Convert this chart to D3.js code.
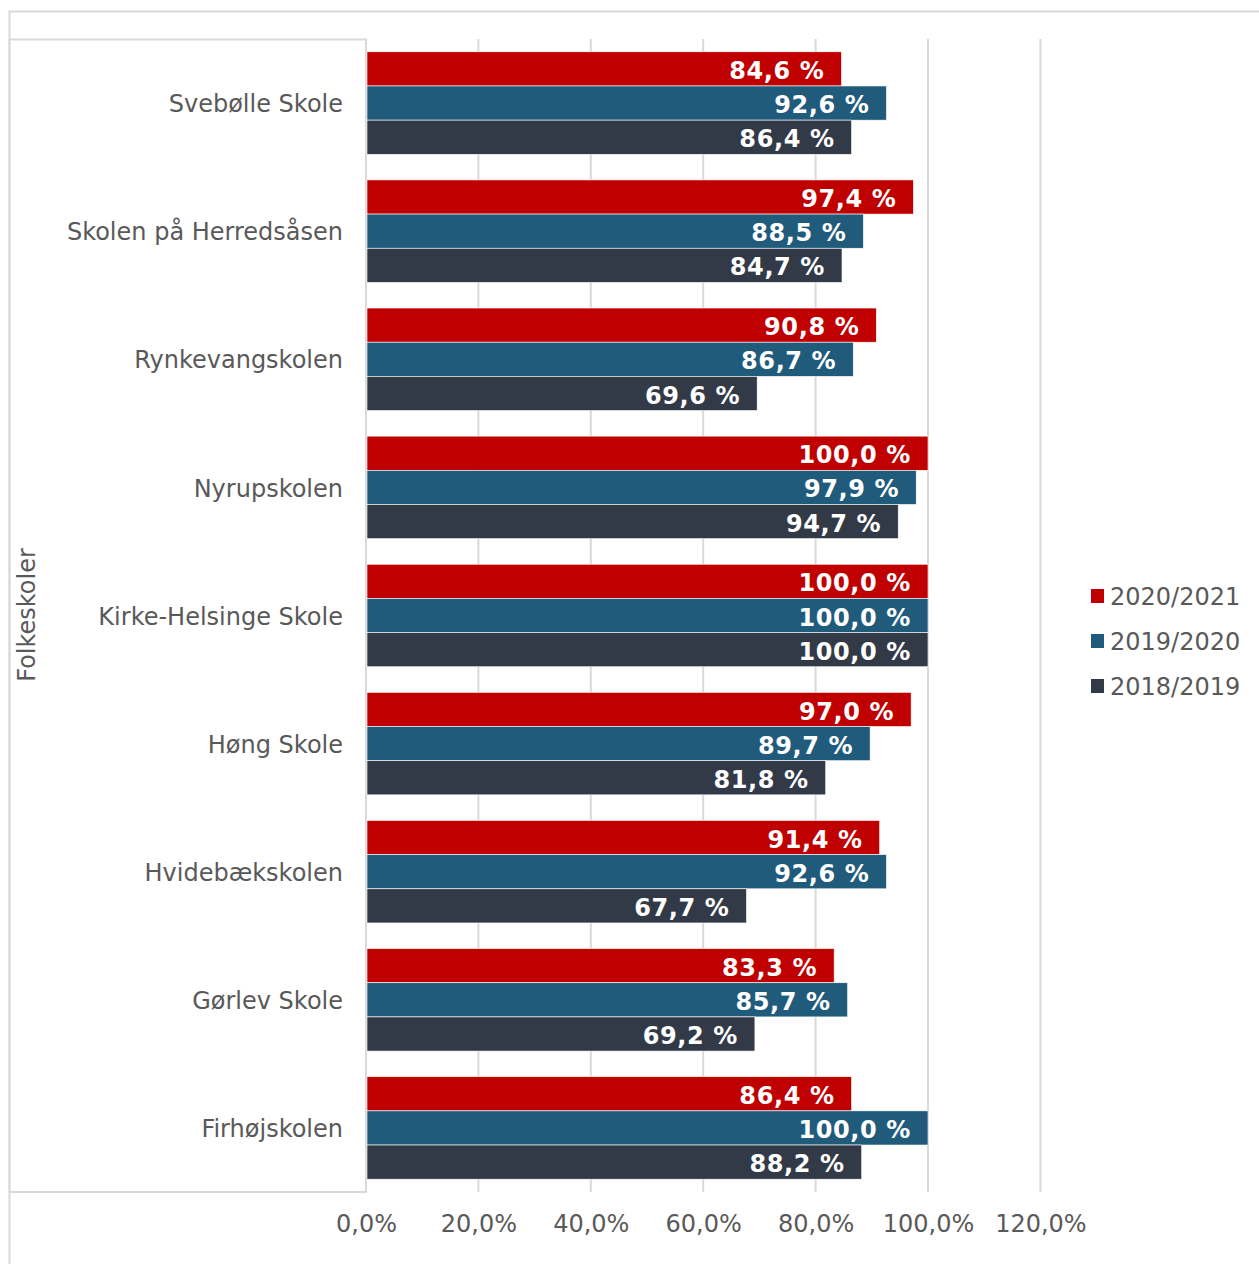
<!DOCTYPE html>
<html><head><meta charset="utf-8">
<script src="https://cdn.jsdelivr.net/npm/d3@7"></script>
<style>
body{margin:0;background:#fff;}
svg{display:block;font-family:"DejaVu Sans",Verdana,sans-serif;}
</style></head>
<body><svg id="c" width="1259" height="1264"></svg>
<script>
const schools = ["Svebølle Skole","Skolen på Herredsåsen","Rynkevangskolen","Nyrupskolen","Kirke-Helsinge Skole","Høng Skole","Hvidebækskolen","Gørlev Skole","Firhøjskolen"];
const seriesNames = ["2020/2021","2019/2020","2018/2019"];
const values2020_2021 = [84.6,97.4,90.8,100.0,100.0,97.0,91.4,83.3,86.4];
const values2019_2020 = [92.6,88.5,86.7,97.9,100.0,89.7,92.6,85.7,100.0];
const values2018_2019 = [86.4,84.7,69.6,94.7,100.0,81.8,67.7,69.2,88.2];
const xTicks = [0,20,40,60,80,100,120];
const colors = ["#C00000","#215B7C","#333A47"];
const axisTitle = "Folkeskoler";

const seriesValues = [values2020_2021, values2019_2020, values2018_2019];
const svg = d3.select("#c");
const pLeft = 366, pRight = 1040.4, pTop = 39, pBottom = 1192;
const fs = 24;

// frames
svg.append("path").attr("d","M9.5,1264 V11.5 H1259").attr("fill","none").attr("stroke","#d9d9d9").attr("stroke-width",2);
svg.append("rect").attr("x",9.5).attr("y",39.5).attr("width",pLeft-9.5).attr("height",pBottom-39.5)
  .attr("fill","none").attr("stroke","#d9d9d9").attr("stroke-width",2);

const x = d3.scaleLinear().domain([0,120]).range([pLeft,pRight]);
const y = d3.scaleBand().domain(schools).range([pTop,pBottom]).paddingInner(0.2).paddingOuter(0.1);
const ys = d3.scaleBand().domain(seriesNames).range([0,y.bandwidth()]);

// gridlines
svg.append("g").selectAll("line").data(xTicks.slice(1)).join("line")
  .attr("x1",d=>x(d)).attr("x2",d=>x(d)).attr("y1",pTop).attr("y2",pBottom)
  .attr("stroke","#d9d9d9").attr("stroke-width",2);

// x axis labels
const xAxis = d3.axisBottom(x).tickValues(xTicks).tickSize(0).tickPadding(0)
  .tickFormat(d=>d.toFixed(1).replace(".",",")+"%");
const gx = svg.append("g").attr("transform",`translate(0,${pBottom+23})`).call(xAxis);
gx.select(".domain").remove();
gx.selectAll("text").attr("fill","#595959").attr("font-size",fs).attr("font-family","DejaVu Sans");

// y axis labels
const yAxis = d3.axisLeft(y).tickSize(0).tickPadding(23);
const gy = svg.append("g").attr("transform",`translate(${pLeft},0)`).call(yAxis);
gy.select(".domain").remove();
gy.selectAll("text").attr("fill","#595959").attr("font-size",fs).attr("font-family","DejaVu Sans").attr("dy","0.38em");

// bars
const groups = svg.append("g").selectAll("g").data(schools).join("g")
  .attr("transform",d=>`translate(0,${y(d)})`);
seriesNames.forEach((s,si)=>{
  groups.append("rect")
    .attr("x",x(0)+1).attr("y",ys(s))
    .attr("width",(d,i)=>x(seriesValues[si][i])-x(0)-1)
    .attr("height",ys.bandwidth())
    .attr("fill",colors[si]).attr("stroke","#fff").attr("stroke-width",0.6);
  groups.append("text")
    .attr("x",(d,i)=>x(seriesValues[si][i])-17)
    .attr("y",ys(s)+ys.bandwidth()/2)
    .attr("dy","0.42em").attr("text-anchor","end")
    .attr("fill","#fff").attr("font-weight","bold").attr("font-size",fs).attr("letter-spacing","0.6")
    .text((d,i)=>seriesValues[si][i].toFixed(1).replace(".",",")+" %");
});

// axis title
svg.append("text").attr("transform",`translate(35,615) rotate(-90)`)
  .attr("text-anchor","middle").attr("fill","#595959").attr("font-size",fs).text(axisTitle);

// legend
const lg = svg.append("g").selectAll("g").data(seriesNames).join("g")
  .attr("transform",(d,i)=>`translate(1091,${596+i*45})`);
lg.append("rect").attr("x",0).attr("y",-7).attr("width",13).attr("height",14).attr("fill",(d,i)=>colors[i]);
lg.append("text").attr("x",19).attr("dy","0.38em").attr("fill","#595959").attr("font-size",fs).text(d=>d);
</script></body></html>
